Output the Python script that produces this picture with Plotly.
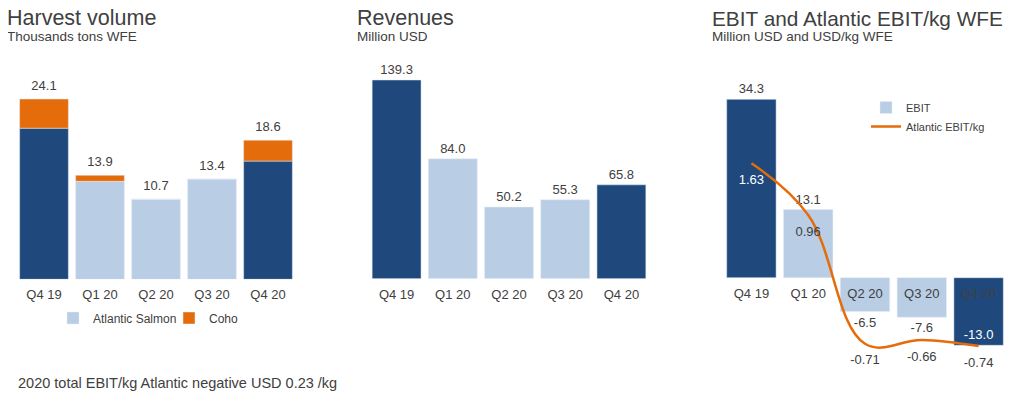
import plotly.graph_objects as go

# ---------------- data ----------------
quarters = ["Q4 19", "Q1 20", "Q2 20", "Q3 20", "Q4 20"]
highlight = [True, False, False, False, True]

harvest_atlantic = [20.2, 13.1, 10.7, 13.4, 15.8]
harvest_coho = [3.9, 0.8, 0.0, 0.0, 2.8]
harvest_total = [24.1, 13.9, 10.7, 13.4, 18.6]

revenues = [139.3, 84.0, 50.2, 55.3, 65.8]

ebit = [34.3, 13.1, -6.5, -7.6, -13.0]
ebit_per_kg = [1.63, 0.96, -0.71, -0.66, -0.74]

titles = ["Harvest volume", "Revenues", "EBIT and Atlantic EBIT/kg WFE"]
subtitles = ["Thousands tons WFE", "Million USD", "Million USD and USD/kg WFE"]
footnote = "2020 total EBIT/kg Atlantic negative USD 0.23 /kg"

# ---------------- styles ----------------
DARK = "#1F497D"
LIGHT = "#B9CDE5"
ORANGE = "#E46C0A"
TXT = "#404040"
FONT = "Liberation Sans, Arial, sans-serif"
OFF = 8                      # page body margin offset
W, H = 1020 - 2 * OFF, 393 - OFF


def px_x(p):
    return (p - OFF) / W


def px_y(p):
    return 1 - (p - OFF) / H


def split(vals, dark):
    return [v if (h == dark) else None for v, h in zip(vals, highlight)]


def fmt(v, d=1):
    return f"{v:.{d}f}"


fig = go.Figure()

# ---- chart 1: harvest volume ----
fig.add_trace(go.Bar(x=quarters, y=split(harvest_atlantic, False), name="Atlantic Salmon",
                     marker_color=LIGHT, legendgroup="atl", legend="legend",
                     xaxis="x", yaxis="y"))
fig.add_trace(go.Bar(x=quarters, y=split(harvest_atlantic, True), name="Atlantic Salmon",
                     marker_color=DARK, legendgroup="atl", showlegend=False,
                     xaxis="x", yaxis="y"))
fig.add_trace(go.Bar(x=quarters, y=harvest_coho, name="Coho", marker_color=ORANGE,
                     legend="legend", xaxis="x", yaxis="y"))
fig.add_trace(go.Scatter(x=quarters, y=harvest_total, mode="markers+text",
                         marker=dict(size=8, color="rgba(0,0,0,0)"),
                         text=[fmt(v) for v in harvest_total], textposition="top center",
                         textfont=dict(size=13, color=TXT), showlegend=False,
                         cliponaxis=False, xaxis="x", yaxis="y"))

# ---- chart 2: revenues ----
for dark in (True, False):
    vals = split(revenues, dark)
    fig.add_trace(go.Bar(x=quarters, y=vals, marker_color=DARK if dark else LIGHT,
                         text=[fmt(v) if v is not None else "" for v in vals],
                         textposition="outside", cliponaxis=False, constraintext="none",
                         outsidetextfont=dict(size=13, color=TXT),
                         showlegend=False, xaxis="x2", yaxis="y2"))

# ---- chart 3: EBIT ----
vals_light = split(ebit, False)
fig.add_trace(go.Bar(x=quarters, y=vals_light, name="EBIT", marker_color=LIGHT,
                     text=[fmt(v) if v is not None else "" for v in vals_light],
                     textposition="outside", cliponaxis=False, constraintext="none",
                     outsidetextfont=dict(size=13, color=TXT),
                     legend="legend2", xaxis="x3", yaxis="y3"))
vals_dark = split(ebit, True)
fig.add_trace(go.Bar(x=quarters, y=vals_dark, name="EBIT", marker_color=DARK,
                     text=[fmt(v) if v is not None else "" for v in vals_dark],
                     textposition=["outside" if (v is not None and v > 0) else "inside" for v in vals_dark],
                     insidetextanchor="end", cliponaxis=False, constraintext="none",
                     outsidetextfont=dict(size=13, color=TXT),
                     insidetextfont=dict(size=13, color="white"),
                     showlegend=False, xaxis="x3", yaxis="y3"))
fig.add_trace(go.Scatter(x=quarters, y=ebit_per_kg, name="Atlantic EBIT/kg",
                         mode="lines+markers+text",
                         line=dict(color=ORANGE, width=2.5, shape="spline", smoothing=1.1),
                         marker=dict(size=16, color="rgba(0,0,0,0)"),
                         text=[fmt(v, 2) for v in ebit_per_kg], textposition="bottom center",
                         textfont=dict(size=13, color=["white", TXT, TXT, TXT, TXT]),
                         cliponaxis=False, legend="legend2", xaxis="x3", yaxis="y4"))

# ---------------- layout ----------------
axis_common = dict(showgrid=False, zeroline=False, showline=False, ticks="",
                   tickfont=dict(size=13, color=TXT), ticklabelstandoff=6)
yhidden = dict(visible=False, showgrid=False, zeroline=False)

# chart 1 scale: baseline at 279.3 px, 7.48 px/unit
# chart 2 scale: baseline at 278.7 px, 1.4265 px/unit
# chart 3 scale: baseline at 277.7 px, 5.2 px/unit ; secondary zero at 289 px, 77.1 px/unit
fig.update_layout(
    width=W, height=H, margin=dict(l=0, r=0, t=0, b=0),
    paper_bgcolor="white", plot_bgcolor="white",
    font=dict(family=FONT, color=TXT),
    barmode="relative", bargap=0.13,
    xaxis=dict(domain=[px_x(16), px_x(296)], anchor="y", **axis_common),
    yaxis=dict(domain=[px_y(279.3), px_y(60)], range=[0, (279.3 - 60) / 7.48], anchor="x", **yhidden),
    xaxis2=dict(domain=[px_x(368.5), px_x(649.5)], anchor="y2", **axis_common),
    yaxis2=dict(domain=[px_y(278.7), px_y(60)], range=[0, (278.7 - 60) / 1.4265], anchor="x2", **yhidden),
    xaxis3=dict(domain=[px_x(723), px_x(1007)], anchor="free", position=px_y(277.7), **axis_common),
    yaxis3=dict(domain=[px_y(360), px_y(60)], range=[-(360 - 277.7) / 5.2, (277.7 - 60) / 5.2],
                anchor="x3", **yhidden),
    yaxis4=dict(range=[-(360 - 289) / 77.1, (289 - 60) / 77.1], overlaying="y3", anchor="x3",
                **yhidden),
    legend=dict(orientation="h", x=px_x(53), y=px_y(318), xanchor="left", yanchor="middle",
                font=dict(size=12, color=TXT), bgcolor="rgba(0,0,0,0)", traceorder="normal",
                entrywidth=71, entrywidthmode="pixels"),
    legend2=dict(orientation="v", x=px_x(866), y=px_y(93), xanchor="left", yanchor="top",
                 font=dict(size=11, color=TXT), bgcolor="rgba(0,0,0,0)", tracegroupgap=0),
)

annotations = []
title_x = [5, 355, 710]
title_sizes = [21.5, 21.5, 20.8]
for tx, t, s, fs in zip(title_x, titles, subtitles, title_sizes):
    annotations.append(dict(text=t, x=px_x(tx), y=px_y(18.5), xref="paper", yref="paper",
                            xanchor="left", yanchor="middle", showarrow=False,
                            font=dict(size=fs, color=TXT)))
    annotations.append(dict(text=s, x=px_x(tx), y=px_y(36), xref="paper", yref="paper",
                            xanchor="left", yanchor="middle", showarrow=False,
                            font=dict(size=13.5, color=TXT)))
annotations.append(dict(text=footnote, x=px_x(16), y=px_y(383), xref="paper", yref="paper",
                        xanchor="left", yanchor="middle", showarrow=False,
                        font=dict(size=14.5, color=TXT)))
fig.update_layout(annotations=annotations)

fig.write_html("out.html")
